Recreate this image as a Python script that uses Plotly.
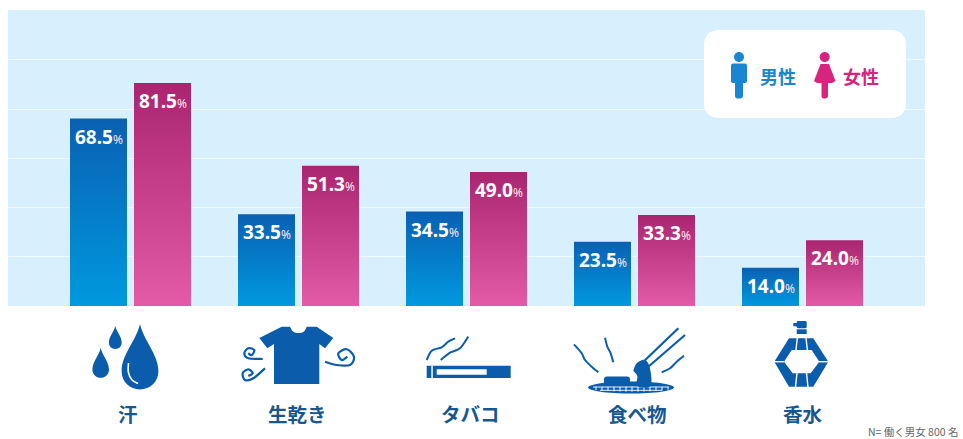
import re
import plotly.graph_objects as go

# Survey results: which smells people worry about at work (percent)
categories = ["汗", "生乾き", "タバコ", "食べ物", "香水"]
male_values = [68.5, 33.5, 34.5, 23.5, 14.0]
female_values = [81.5, 51.3, 49.0, 33.3, 24.0]
series_names = ["男性", "女性"]
footnote = "N= 働く男女 800 名"

W, H = 963, 439
PLOT_L, PLOT_R, PLOT_T, PLOT_B = 8, 925, 10, 306
GROUP_STEP = 168.0
FIRST_CENTER = 130.0
BAR_W = 57 / GROUP_STEP
MALE_OFF = -60 / GROUP_STEP
FEMALE_OFF = 4 / GROUP_STEP
ICON = "#0b5cab"
LABEL = "#17578f"
MALE_C = "#1a85d0"
FEMALE_C = "#d6247f"
CJK = "Noto Sans CJK JP"


def to_paper(path):
    """Convert an SVG path written in canvas pixels to paper fractions."""
    def conv(m):
        return f"{float(m.group(1)) / W:.5f},{1 - float(m.group(2)) / H:.5f}"
    return re.sub(r"(-?[\d.]+)[ ,](-?[\d.]+)", conv, path)


def smooth(pts):
    """Catmull-Rom curve through the points, as an SVG path."""
    d = f"M{pts[0][0]} {pts[0][1]}"
    for i in range(len(pts) - 1):
        p0 = pts[max(i - 1, 0)]
        p1, p2 = pts[i], pts[i + 1]
        p3 = pts[min(i + 2, len(pts) - 1)]
        c1 = (p1[0] + (p2[0] - p0[0]) / 6, p1[1] + (p2[1] - p0[1]) / 6)
        c2 = (p2[0] - (p3[0] - p1[0]) / 6, p2[1] - (p3[1] - p1[1]) / 6)
        d += f" C{c1[0]:.2f} {c1[1]:.2f} {c2[0]:.2f} {c2[1]:.2f} {p2[0]} {p2[1]}"
    return d


def poly(pts):
    return "M" + " L".join(f"{x} {y}" for x, y in pts) + " Z"


def rrect(x0, y0, x1, y1, r):
    return (f"M{x0 + r} {y0} L{x1 - r} {y0} Q{x1} {y0} {x1} {y0 + r} L{x1} {y1 - r} "
            f"Q{x1} {y1} {x1 - r} {y1} L{x0 + r} {y1} Q{x0} {y1} {x0} {y1 - r} "
            f"L{x0} {y0 + r} Q{x0} {y0} {x0 + r} {y0} Z")


def ellipse(cx, cy, rx, ry):
    kx, ky = 0.5523 * rx, 0.5523 * ry
    return (f"M{cx - rx} {cy} C{cx - rx} {cy - ky} {cx - kx} {cy - ry} {cx} {cy - ry} "
            f"C{cx + kx} {cy - ry} {cx + rx} {cy - ky} {cx + rx} {cy} "
            f"C{cx + rx} {cy + ky} {cx + kx} {cy + ry} {cx} {cy + ry} "
            f"C{cx - kx} {cy + ry} {cx - rx} {cy + ky} {cx - rx} {cy} Z")


def drop(cx, top, half, bottom):
    mid = bottom - half
    return (f"M{cx} {top} C{cx - half * 0.2} {top + (mid - top) * 0.35} {cx - half} {mid - (mid - top) * 0.35} "
            f"{cx - half} {mid} C{cx - half} {bottom - half * 0.4} {cx - half * 0.55} {bottom} {cx} {bottom} "
            f"C{cx + half * 0.55} {bottom} {cx + half} {bottom - half * 0.4} {cx + half} {mid} "
            f"C{cx + half} {mid - (mid - top) * 0.35} {cx + half * 0.2} {top + (mid - top) * 0.35} {cx} {top} Z")


shapes = []


def fill(path, color=ICON):
    shapes.append(dict(type="path", xref="paper", yref="paper", path=to_paper(path),
                       fillcolor=color, line=dict(width=0), layer="above"))


def stroke(path, width=2.0, color=ICON):
    shapes.append(dict(type="path", xref="paper", yref="paper", path=to_paper(path),
                       line=dict(color=color, width=width), layer="above"))


# Legend panel and pictograms
fill(rrect(704, 30, 906, 118, 16), "#ffffff")
fill(ellipse(739, 57, 5, 5), MALE_C)
fill(rrect(731, 63.5, 747, 83, 2), MALE_C)
fill(rrect(735, 78, 743, 98.5, 2.5), MALE_C)
fill(ellipse(824.7, 57, 5, 5), FEMALE_C)
fill(poly([(820.5, 64), (829, 64), (835.5, 81), (832, 83), (817, 83), (814, 81)]), FEMALE_C)
fill(rrect(821.5, 80, 828, 98.5, 2.5), FEMALE_C)

# Sweat drops
fill(drop(140, 324, 18.4, 389.5))
fill(drop(115.3, 326, 6.4, 349))
fill(drop(100.7, 348, 8.3, 377.7))
stroke(smooth([(128.5, 363), (128.3, 372), (132, 380), (138, 383.5)]), 1.6, "#ffffff")

# Damp shirt and its odour swirls
fill(smooth([(290, 326.7), (293, 331.5), (298.5, 333), (304, 331.5), (306.7, 326.7)]).replace("M290 326.7", "M259.3 338 L281.7 326.7 L290 326.7")
     + " L316.7 326.7 L333.3 338 L325 348.3 L319.3 344 L319.3 384 L274 384 L274 344 L267.3 348.3 Z")
stroke(smooth([(262.7, 359), (248.3, 358.3), (244.3, 353.3), (248.3, 348.3), (254.3, 350), (251.7, 355), (248.3, 353.3)]), 2.2)
stroke(smooth([(265, 368.3), (253.3, 378.3), (245, 380), (242.7, 373.3), (248.3, 369.3), (252.7, 373.3), (248.3, 376)]), 2.2)
stroke(smooth([(325, 361.7), (336.7, 365), (350, 365), (354, 356.7), (346.7, 349.3), (338.3, 353.3), (341.7, 360), (347.3, 356.7)]), 2.2)

# Cigarette with smoke
fill(poly([(426.7, 365.7), (510.7, 365.7), (510.7, 378), (426.7, 378)]))
fill(poly([(431.3, 365.7), (432.8, 365.7), (432.8, 378), (431.3, 378)]), "#ffffff")
fill(poly([(436.7, 369.3), (486.7, 369.3), (486.7, 374.7), (436.7, 374.7)]), "#ffffff")
stroke(smooth([(426.7, 360), (431.7, 350.7), (441.7, 347.3), (448.3, 341.7), (455, 338.3)]))
stroke(smooth([(440.7, 360), (450, 352.7), (460, 348.3), (468.3, 336.7)]))

# Grilled food on a mesh with chopsticks
fill(ellipse(631, 387.5, 43, 6))
for gx in range(596, 670, 6):
    half = 4.2 * (1 - ((gx - 631) / 43) ** 2) ** 0.5
    stroke(f"M{gx} {387.5 - half * 0.2} L{gx} {387.5 + half}", 1.0, "#ffffff")
stroke("M593 387 L669 387", 0.9, "#ffffff")
stroke("M600 390.3 L662 390.3", 0.9, "#ffffff")
fill(rrect(604, 376.5, 630, 385.5, 3))
fill(smooth([(633.3, 371), (636.7, 363.3), (645, 360), (650, 368.3), (650.5, 386), (637.3, 386), (637.3, 376), (633.3, 371)]) + " Z")
stroke("M640 365 L678.3 328.3", 2.2)
stroke("M648 367 L685 335", 2.2)
stroke(smooth([(574, 344.3), (581.7, 353.3), (585, 360), (591.7, 366.7), (598.3, 372.3)]))
stroke(smooth([(605, 337.7), (607.3, 346.7), (610.7, 353.3), (613.3, 362.3)]))
stroke(smooth([(661.7, 372.3), (670, 368.3), (676.7, 361.7), (684, 355.7)]))

# Perfume bottle
fill(rrect(796.7, 321, 806.7, 328.3, 1.5))
fill(poly([(793.3, 323), (797, 323), (797, 326.3), (793.3, 326.3)]))
fill(poly([(796.7, 329.3), (806.7, 329.3), (806.7, 334), (796.7, 334)]))
fill(poly([(789, 338.3), (813.3, 338.3), (828.3, 361.7), (813.3, 386.7), (789, 386.7), (774.3, 361.7)]))
fill(poly([(791.7, 350), (811.7, 350), (819.3, 361.7), (810.7, 373.3), (792.7, 373.3), (784, 361.7)]), "#ffffff")
for seg in ["M774 361.7 L784 361.7", "M819 361.7 L829 361.7",
            "M797.3 338 L796 350", "M806 338 L807.4 350",
            "M797 373 L795.5 387", "M806.5 373 L808 387"]:
    stroke(seg, 1.4, "#ffffff")


def value_label(v):
    return f"<b>{v:.1f}</b><span style='font-size:12px;color:#f4e6f0'>%</span>"


annotations = []
for i, (m, f) in enumerate(zip(male_values, female_values)):
    for v, off in ((m, MALE_OFF), (f, FEMALE_OFF)):
        annotations.append(dict(x=i + off + BAR_W / 2, y=v, xref="x", yref="y",
                                text=value_label(v), showarrow=False, yanchor="top",
                                yshift=-3, font=dict(family="Noto Sans", size=19, color="#ffffff")))

label_shift = [-2.5, -0.5, 4, 3, 0.5]
for i, c in enumerate(categories):
    annotations.append(dict(x=i, y=1 - 413 / H, xref="x", yref="paper", xshift=label_shift[i],
                            xanchor="center", yanchor="middle",
                            text=f"<b>{c}</b>", showarrow=False,
                            font=dict(family=CJK, size=19.5, color=LABEL)))

annotations.append(dict(x=777.5 / W, y=1 - 76 / H, xref="paper", yref="paper",
                        xanchor="center", yanchor="middle",
                        text=f"<b>{series_names[0]}</b>", showarrow=False,
                        font=dict(family=CJK, size=18, color=MALE_C)))
annotations.append(dict(x=861 / W, y=1 - 76 / H, xref="paper", yref="paper",
                        xanchor="center", yanchor="middle",
                        text=f"<b>{series_names[1]}</b>", showarrow=False,
                        font=dict(family=CJK, size=18, color=FEMALE_C)))
annotations.append(dict(x=866 / W, y=1 - 431 / H, xref="paper", yref="paper",
                        xanchor="left", yanchor="middle",
                        text=footnote, showarrow=False,
                        font=dict(family=CJK, size=10.5, color="#666666")))

x_range = [(PLOT_L - FIRST_CENTER) / GROUP_STEP, (PLOT_R - FIRST_CENTER) / GROUP_STEP]

fig = go.Figure()
fig.add_bar(x=list(range(5)), y=male_values, name=series_names[0], width=BAR_W, offset=MALE_OFF,
            marker=dict(color="#0578c6", line=dict(width=0)))
fig.add_bar(x=list(range(5)), y=female_values, name=series_names[1], width=BAR_W, offset=FEMALE_OFF,
            marker=dict(color="#c83d8b", line=dict(width=0)))

fig.update_layout(
    width=W, height=H, autosize=False,
    margin=dict(l=0, r=0, t=0, b=0),
    paper_bgcolor="#ffffff", plot_bgcolor="#d8f0fd",
    showlegend=False, barmode="overlay",
    shapes=shapes, annotations=annotations,
    xaxis=dict(domain=[PLOT_L / W, PLOT_R / W], range=x_range, showgrid=False,
               showticklabels=False, ticks="", zeroline=False, showline=False, fixedrange=True),
    yaxis=dict(domain=[1 - PLOT_B / H, 1 - PLOT_T / H], range=[0, 108.2], dtick=18,
               showgrid=True, gridcolor="#f0f9fe", gridwidth=1, showticklabels=False,
               ticks="", zeroline=False, showline=False, fixedrange=True),
)

# Vertical colour ramps for the bars, one per series
bar_ramps = """
var gd = document.getElementById('{plot_id}');
var ns = 'http://www.w3.org/2000/svg';
var ramps = [['ramp-m', '#0a60b3', '#0099de'], ['ramp-f', '#aa2570', '#e35ba6']];
var defs = gd.querySelector('svg.main-svg defs');
ramps.forEach(function (r) {
  var g = document.createElementNS(ns, 'linearGradient');
  g.setAttribute('id', r[0]);
  g.setAttribute('x1', '0'); g.setAttribute('y1', '0');
  g.setAttribute('x2', '0'); g.setAttribute('y2', '1');
  [[0, r[1]], [1, r[2]]].forEach(function (s) {
    var st = document.createElementNS(ns, 'stop');
    st.setAttribute('offset', s[0]);
    st.setAttribute('stop-color', s[1]);
    g.appendChild(st);
  });
  defs.appendChild(g);
});
gd.querySelectorAll('.barlayer .trace').forEach(function (t, i) {
  t.querySelectorAll('path').forEach(function (p) {
    p.style.fill = 'url(#' + ramps[i][0] + ')';
  });
});
"""

fig.write_html("out.html", post_script=bar_ramps, config=dict(displayModeBar=False))
